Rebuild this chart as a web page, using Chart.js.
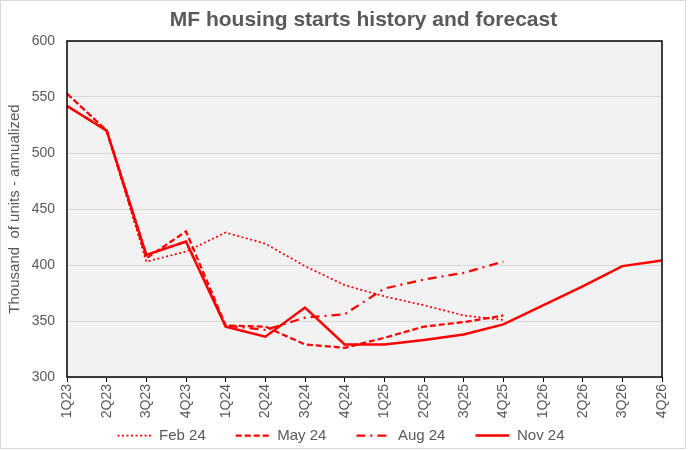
<!DOCTYPE html>
<html>
<head>
<meta charset="utf-8">
<script src="https://cdn.jsdelivr.net/npm/chart.js@4"></script>
<style>
  html, body { margin: 0; padding: 0; background: #fff; }
  #wrap { width: 696px; height: 450px; }
</style>
</head>
<body>
<div id="wrap"><canvas id="line-chart" width="696" height="450"></canvas></div>
<script>
// quarters on the x axis
const quarters = ["1Q23", "2Q23", "3Q23", "4Q23", "1Q24", "2Q24", "3Q24", "4Q24",
                  "1Q25", "2Q25", "3Q25", "4Q25", "1Q26", "2Q26", "3Q26", "4Q26"];

// forecast vintages (thousand units, annualized)
const feb24 = [553, 520, 403, 412, 429, 419, 399, 382, 372, 364, 355, 351];
const may24 = [553, 520, 406, 430, 346, 345, 329, 326, 335, 345, 349, 355];
const aug24 = [542, 520, 409, 421, 346, 342, 353, 356, 379, 387, 393, 403];
const nov24 = [542, 520, 409, 421, 345, 336, 362, 329, 329, 333, 338, 347, 364, 381, 399, 404];

const yMin = 300, yMax = 600, yStep = 50;
const grey = "#595959";
const font = "'Liberation Sans', Arial, sans-serif";
const legendGap = 30;

// plot background, frame, outer border and centred title
const framePlugin = {
  id: "frame",
  afterLayout(chart) {
    // wide gaps between legend items, but keep the row close to the axis labels
    chart.legend.top -= legendGap - 6;
  },
  beforeDraw(chart) {
    const { ctx, chartArea: a } = chart;
    ctx.save();
    ctx.fillStyle = "#fff";
    ctx.fillRect(0, 0, chart.width, chart.height);
    ctx.fillStyle = "#f2f2f2";
    ctx.fillRect(a.left, a.top, a.right - a.left, a.bottom - a.top);
    ctx.restore();
  },
  afterDraw(chart) {
    const { ctx, chartArea: a } = chart;
    ctx.save();
    ctx.strokeStyle = "#000";
    ctx.lineWidth = 1.5;
    ctx.strokeRect(a.left, a.top, a.right - a.left, a.bottom - a.top);
    ctx.strokeStyle = "#d9d9d9";
    ctx.lineWidth = 1;
    ctx.strokeRect(0.5, 0.5, 685, 448);
    ctx.fillStyle = grey;
    ctx.font = "bold 21px " + font;
    ctx.textAlign = "center";
    ctx.textBaseline = "middle";
    ctx.fillText("MF housing starts history and forecast", (a.left + a.right) / 2 - 1, 20);
    ctx.restore();
  }
};

new Chart(document.getElementById("line-chart"), {
  type: "line",
  data: {
    labels: quarters,
    datasets: [
      { label: "Feb 24", data: feb24, borderColor: "#ff0000", borderWidth: 1.75, borderDash: [2, 2.5] },
      { label: "May 24", data: may24, borderColor: "#ff0000", borderWidth: 2.25, borderDash: [6, 3] },
      { label: "Aug 24", data: aug24, borderColor: "#ff0000", borderWidth: 2.25, borderDash: [9, 5, 2, 5] },
      { label: "Nov 24", data: nov24, borderColor: "#ff0000", borderWidth: 2.5 }
    ]
  },
  options: {
    responsive: false,
    animation: false,
    layout: { padding: { left: 20, right: 34, top: 41, bottom: 0 } },
    elements: {
      point: { radius: 0, hoverRadius: 0 },
      line: { tension: 0, fill: false, backgroundColor: "#ff0000" }
    },
    plugins: {
      title: { display: false },
      tooltip: { enabled: false },
      legend: {
        position: "bottom",
        maxHeight: 28,
        labels: {
          usePointStyle: true,
          pointStyle: "line",
          pointStyleWidth: 34,
          padding: legendGap,
          color: grey,
          font: { family: font, size: 15 },
          generateLabels(chart) {
            const items = Chart.defaults.plugins.legend.labels.generateLabels(chart);
            items.forEach(item => {
              const ds = chart.data.datasets[item.datasetIndex];
              item.lineDash = ds.borderDash || [];
              item.lineWidth = ds.borderWidth;
              item.strokeStyle = ds.borderColor;
            });
            return items;
          }
        }
      }
    },
    scales: {
      x: {
        offset: false,
        grid: { drawOnChartArea: false, color: "#000", tickLength: 5 },
        border: { display: false },
        ticks: {
          color: grey, font: { family: font, size: 14 },
          minRotation: 90, maxRotation: 90, autoSkip: false, padding: 2
        },
        afterFit(scale) { scale.height = 45; }
      },
      y: {
        min: yMin, max: yMax,
        grid: { color: "#d9d9d9", drawTicks: false },
        border: { display: false },
        ticks: { stepSize: yStep, color: grey, font: { family: font, size: 14 }, padding: 12 },
        title: {
          display: true,
          text: "Thousand  of units - annualized",
          color: grey,
          font: { family: font, size: 15 },
          padding: { top: -14, bottom: 0 }
        },
        afterFit(scale) { scale.width = 47; }
      }
    }
  },
  plugins: [framePlugin]
});
</script>
</body>
</html>
